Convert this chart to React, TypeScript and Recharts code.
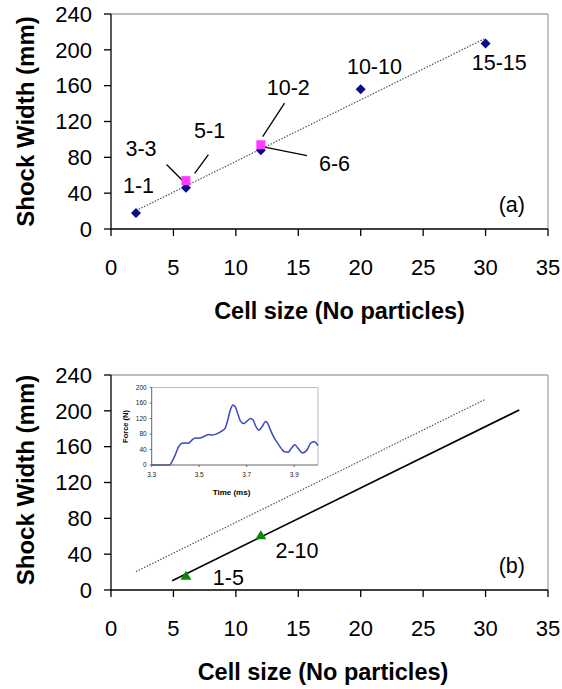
import React from 'react';
import {
  ComposedChart,
  LineChart,
  Line,
  Scatter,
  XAxis,
  YAxis,
  ReferenceLine,
  ReferenceDot,
} from 'recharts';

// ---- data ----
const cellTicks = [0, 5, 10, 15, 20, 25, 30, 35];
const widthTicks = [0, 40, 80, 120, 160, 200, 240];

// (a) no particles
const cellSizeA = [2, 6, 12, 20, 30];
const shockWidthA = [18, 46, 88, 156, 207];
const cellSizeMixed = [6, 12];
const shockWidthMixed = [54, 94];
const trendX = [2, 30];
const trendY = [20.5, 213];

const labelTextA = ['1-1', '3-3', '5-1', '10-2', '6-6', '10-10', '15-15', '(a)'];
const labelXA = [2.2, 2.4, 7.9, 14.2, 17.9, 21.1, 31.1, 32.1];
const labelYA = [49, 90, 110, 158.5, 73, 181, 186.5, 27.5];

// leader lines: x1, y1, x2, y2
const leaderX1 = [4.45, 7.8, 13.9, 11.9];
const leaderY1 = [72, 83, 140.5, 92.5];
const leaderX2 = [5.95, 6.7, 12.15, 15.7];
const leaderY2 = [51, 62, 103, 82];

// (b) with particles
const cellSizeB = [6, 12];
const shockWidthB = [16, 61];
const fitX = [4.9, 32.7];
const fitY = [10.4, 201];
const labelTextB = ['1-5', '2-10', '(b)'];
const labelXB = [9.4, 14.9, 32.1];
const labelYB = [14, 44, 27];

// inset: force history
const timeMs = [
  3.3, 3.375, 3.385, 3.399, 3.413, 3.427, 3.441, 3.455, 3.469, 3.483,
  3.497, 3.511, 3.525, 3.54, 3.554, 3.568, 3.582, 3.596, 3.61, 3.62,
  3.631, 3.642, 3.652, 3.662, 3.673, 3.688, 3.702, 3.716, 3.727, 3.738,
  3.751, 3.765, 3.779, 3.789, 3.8, 3.817, 3.831, 3.845, 3.859, 3.874,
  3.888, 3.902, 3.916, 3.935, 3.955, 3.97, 3.985, 4.0,
];
const forceN = [
  0, 0, 8, 26, 47, 56, 57, 56, 64, 70,
  69, 71, 75, 79, 77, 79, 83, 88, 96, 116,
  142, 155, 150, 133, 114, 107, 114, 120, 116, 100,
  90, 99, 112, 107, 90, 69, 56, 43, 34, 33,
  43, 52, 43, 31, 40, 57, 60, 50,
];
const timeTicks = [3.3, 3.5, 3.7, 3.9];
const forceTicks = [0, 40, 80, 120, 160, 200];

const zip = (xs: number[], ys: number[]) => xs.map((x, i) => ({ x, y: ys[i] }));

const diamonds = zip(cellSizeA, shockWidthA);
const squares = zip(cellSizeMixed, shockWidthMixed);
const trend = zip(trendX, trendY);
const triangles = zip(cellSizeB, shockWidthB);
const fit = zip(fitX, fitY);
const forceData = timeMs.map((t, i) => ({ t, f: forceN[i] }));

const FONT = "'Liberation Sans', Arial, sans-serif";
const W = 562;
const H = 328;
const margin = { top: 14, right: 14, bottom: 4, left: 0 };

function Diamond(props: any) {
  const { cx, cy } = props;
  const r = 5;
  return <polygon points={`${cx},${cy - r} ${cx + r},${cy} ${cx},${cy + r} ${cx - r},${cy}`} fill="#0a0a8c" />;
}

function Square(props: any) {
  const { cx, cy } = props;
  return <rect x={cx - 4.5} y={cy - 4.5} width={9} height={9} fill="#ff3cff" />;
}

function Triangle(props: any) {
  const { cx, cy } = props;
  return <polygon points={`${cx},${cy - 5} ${cx + 5.5},${cy + 4} ${cx - 5.5},${cy + 4}`} fill="#0a8a0a" />;
}

// titles placed at fixed chart coordinates (own prop names so the axis doesn't override them)
function AxisTitle({ tx, ty, text, size, rot }: any) {
  return (
    <text
      x={tx}
      y={ty}
      textAnchor="middle"
      dominantBaseline={rot ? 'central' : 'alphabetic'}
      transform={rot ? `rotate(${rot} ${tx} ${ty})` : undefined}
      fontSize={size}
      fontWeight="bold"
      fontFamily={FONT}
      fill="#000"
    >
      {text}
    </text>
  );
}

function pointLabels(texts: string[], xs: number[], ys: number[]) {
  return texts.map((t, i) => (
    <ReferenceDot
      key={t}
      x={xs[i]}
      y={ys[i]}
      r={0}
      fill="none"
      stroke="none"
      label={{ value: t, position: 'center', fontSize: 21.5, fill: '#000', fontFamily: FONT }}
    />
  ));
}

function axes(titleX: number, titleY: number) {
  return [
    <XAxis
      key="x"
      type="number"
      dataKey="x"
      domain={[0, 35]}
      ticks={cellTicks}
      interval={0}
      height={95}
      tickSize={7}
      tickMargin={23}
      axisLine={{ stroke: '#000', strokeWidth: 1.3 }}
      tickLine={{ stroke: '#000', strokeWidth: 1.3 }}
      tick={{ fontSize: 22, fill: '#000', fontFamily: FONT }}
      label={<AxisTitle tx={titleX} ty={318.5} text="Cell size (No particles)" size={23.5} />}
    />,
    <YAxis
      key="y"
      type="number"
      dataKey="y"
      domain={[0, 240]}
      ticks={widthTicks}
      interval={0}
      width={111}
      tickSize={7}
      tickMargin={12}
      axisLine={{ stroke: '#000', strokeWidth: 1.3 }}
      tickLine={{ stroke: '#000', strokeWidth: 1.3 }}
      tick={{ fontSize: 22, fill: '#000', fontFamily: FONT }}
      label={<AxisTitle tx={25} ty={titleY} text="Shock Width (mm)" size={24} rot={-90} />}
    />,
    <ReferenceLine key="top" y={240} stroke="#a8a8a8" strokeWidth={1.3} />,
    <ReferenceLine key="right" x={35} stroke="#a8a8a8" strokeWidth={1.3} />,
  ];
}

function ChartA() {
  return (
    <ComposedChart width={W} height={H} margin={margin}>
      {axes(339.5, 121.5)}
      <Line
        data={trend}
        dataKey="y"
        stroke="#555"
        strokeWidth={1.2}
        strokeDasharray="1.5 1.5"
        dot={false}
        activeDot={false}
        isAnimationActive={false}
      />
      <Scatter data={diamonds} dataKey="y" shape={Diamond} isAnimationActive={false} />
      <Scatter data={squares} dataKey="y" shape={Square} isAnimationActive={false} />
      {leaderX1.map((x1, i) => (
        <ReferenceLine
          key={`ld${i}`}
          segment={[
            { x: x1, y: leaderY1[i] },
            { x: leaderX2[i], y: leaderY2[i] },
          ]}
          stroke="#000"
          strokeWidth={1.3}
        />
      ))}
      {pointLabels(labelTextA, labelXA, labelYA)}
    </ComposedChart>
  );
}

function ChartB() {
  return (
    <ComposedChart width={W} height={H} margin={margin}>
      {axes(323, 119)}
      <Line
        data={trend}
        dataKey="y"
        stroke="#555"
        strokeWidth={1.2}
        strokeDasharray="1.5 1.5"
        dot={false}
        activeDot={false}
        isAnimationActive={false}
      />
      <Line
        data={fit}
        dataKey="y"
        stroke="#000"
        strokeWidth={1.6}
        dot={false}
        activeDot={false}
        isAnimationActive={false}
      />
      <Scatter data={triangles} dataKey="y" shape={Triangle} isAnimationActive={false} />
      {pointLabels(labelTextB, labelXB, labelYB)}
    </ComposedChart>
  );
}

function Inset() {
  const tick = { fontSize: 6.5, fill: '#222', fontFamily: FONT };
  return (
    <LineChart width={204} height={115} data={forceData} margin={{ top: 4.5, right: 4, bottom: 3, left: 0 }}>
      <XAxis
        type="number"
        dataKey="t"
        domain={[3.3, 4.0]}
        ticks={timeTicks}
        interval={0}
        height={30}
        tickSize={2}
        tickMargin={5}
        tick={tick}
        axisLine={{ stroke: '#666' }}
        tickLine={{ stroke: '#666' }}
        label={<AxisTitle tx={113.5} ty={111.5} text="Time (ms)" size={8} />}
      />
      <YAxis
        type="number"
        domain={[0, 200]}
        ticks={forceTicks}
        interval={0}
        width={33.7}
        tickSize={2}
        tickMargin={3}
        tick={tick}
        axisLine={{ stroke: '#666' }}
        tickLine={{ stroke: '#666' }}
        label={<AxisTitle tx={7} ty={43.5} text="Force (N)" size={7.5} rot={-90} />}
      />
      <ReferenceLine y={200} stroke="#bbb" />
      <ReferenceLine x={4.0} stroke="#bbb" />
      <Line
        type="monotone"
        dataKey="f"
        stroke="#3b48c4"
        strokeWidth={1.5}
        dot={false}
        activeDot={false}
        isAnimationActive={false}
      />
    </LineChart>
  );
}

export default function App() {
  return (
    <div
      style={{
        position: 'absolute',
        left: 0,
        top: 0,
        width: 562,
        height: 689,
        background: '#fff',
        fontFamily: FONT,
        overflow: 'hidden',
      }}
    >
      <div style={{ position: 'absolute', left: 0, top: 0 }}>
        <ChartA />
      </div>
      <div style={{ position: 'absolute', left: 0, top: 361 }}>
        <ChartB />
      </div>
      <div style={{ position: 'absolute', left: 118, top: 383 }}>
        <Inset />
      </div>
    </div>
  );
}
